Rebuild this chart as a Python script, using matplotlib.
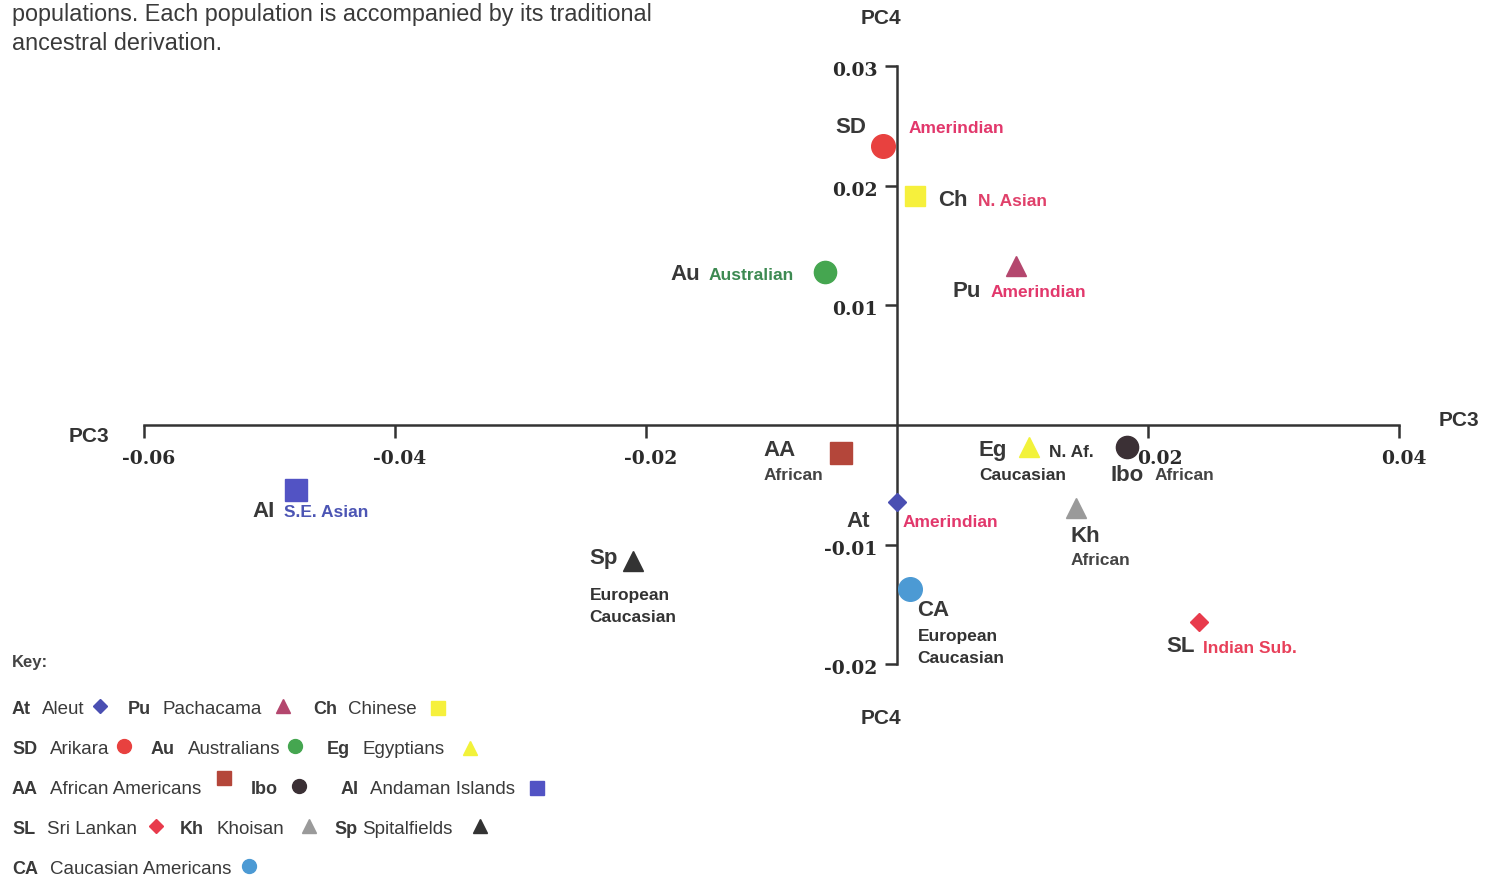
import numpy as np
import matplotlib
matplotlib.use('Agg')
from matplotlib import pyplot as plt
from matplotlib import transforms

W, H = 1486, 881

# population scores on PC3 / PC4
codes = ['SD', 'Ch', 'Au', 'Pu', 'AA', 'Eg', 'Ibo', 'AI', 'At', 'Kh', 'Sp', 'CA', 'SL']
pc3 = [-0.0011, 0.0014, -0.0057, 0.0095, -0.0045, 0.0105, 0.0183, -0.0479, 0.0000, 0.0143, -0.0210, 0.0010, 0.0241]
pc4 = [0.0233, 0.0191, 0.0128, 0.0133, -0.0023, -0.0018, -0.0018, -0.0054, -0.0064, -0.0069, -0.0114, -0.0137, -0.0165]
names = ['Arikara', 'Chinese', 'Australians', 'Pachacama', 'African Americans', 'Egyptians', '',
         'Andaman Islands', 'Aleut', 'Khoisan', 'Spitalfields', 'Caucasian Americans', 'Sri Lankan']
ancestry = ['Amerindian', 'N. Asian', 'Australian', 'Amerindian', 'African', 'N. Af.|Caucasian', 'African',
            'S.E. Asian', 'Amerindian', 'African', 'European|Caucasian', 'European|Caucasian', 'Indian Sub.']

xticks = [-0.06, -0.04, -0.02, 0.02, 0.04]
yticks = [-0.02, -0.01, 0.01, 0.02, 0.03]

style = {
    'SD':  {'color': '#e8413f', 'marker': 'o', 'ms': 17},
    'Ch':  {'color': '#f6f03c', 'marker': 's', 'ms': 15},
    'Au':  {'color': '#45a650', 'marker': 'o', 'ms': 16},
    'Pu':  {'color': '#b4476e', 'marker': '^', 'ms': 14},
    'AA':  {'color': '#b4463a', 'marker': 's', 'ms': 16},
    'Eg':  {'color': '#f2f23a', 'marker': '^', 'ms': 14},
    'Ibo': {'color': '#3b3035', 'marker': 'o', 'ms': 16},
    'AI':  {'color': '#5253c4', 'marker': 's', 'ms': 16},
    'At':  {'color': '#4a4fb2', 'marker': 'D', 'ms': 9},
    'Kh':  {'color': '#9a9a9a', 'marker': '^', 'ms': 14},
    'Sp':  {'color': '#333333', 'marker': '^', 'ms': 14},
    'CA':  {'color': '#4c9ad4', 'marker': 'o', 'ms': 17},
    'SL':  {'color': '#e83b4c', 'marker': 'D', 'ms': 9},
}

anc_color = {
    'Amerindian': '#e2386c', 'N. Asian': '#e0406a', 'Australian': '#3d8a52',
    'S.E. Asian': '#4c55b4', 'African': '#444444', 'Caucasian': '#333333',
    'N. Af.': '#333333', 'European': '#333333', 'Indian Sub.': '#e8405a',
}

# label offsets in pixels from the marker: code label, then ancestry label(s)
label_pos = {
    'SD':  [(-32, 19, 'center'), (25, 18)],
    'Ch':  [(24, -4, 'left'), (63, -5)],
    'Au':  [(-155, -3, 'left'), (-117, -4)],
    'Pu':  [(-64, -26, 'left'), (-26, -27)],
    'AA':  [(-77, 2, 'left'), (-77, -23)],
    'Eg':  [(-50, -4, 'left'), (20, -6), (-50, -29)],
    'Ibo': [(-16, -29, 'left'), (28, -29)],
    'AI':  [(-43, -22, 'left'), (-12, -23)],
    'At':  [(-27, -20, 'right'), (6, -21)],
    'Kh':  [(-6, -29, 'left'), (-6, -53)],
    'Sp':  [(-44, 3, 'left'), (-44, -34), (-44, -56)],
    'CA':  [(8, -22, 'left'), (8, -48), (8, -70)],
    'SL':  [(-33, -24, 'left'), (4, -26)],
}

sans = 'Liberation Sans'
dark = '#333333'

fig = plt.figure(figsize=(W / 100, H / 100), dpi=100)
ax = fig.add_axes([0, 0, 1, 1])
ax.set_xlim(-0.07147, 0.04693)
ax.set_ylim(-0.03810, 0.03551)

for s in ['top', 'right']:
    ax.spines[s].set_visible(False)
ax.spines['left'].set_position(('data', 0))
ax.spines['bottom'].set_position(('data', 0))
ax.spines['left'].set_bounds(-0.02, 0.03)
ax.spines['bottom'].set_bounds(-0.06, 0.04)
for s in ['left', 'bottom']:
    ax.spines[s].set_linewidth(1.8)
    ax.spines[s].set_color(dark)
    ax.spines[s].set_zorder(1)

ax.set_xticks(xticks)
ax.set_xticklabels([f'{t:.2f}' for t in xticks])
ax.set_yticks(yticks)
ax.set_yticklabels([f'{t:.2f}' for t in yticks])
ax.tick_params(length=9, width=1.8, color=dark, direction='out', pad=5)
ax.tick_params(axis='x', pad=9)
for lab in ax.get_xticklabels() + ax.get_yticklabels():
    lab.set_fontfamily('DejaVu Serif')
    lab.set_fontweight('bold')
    lab.set_fontsize(13.5)
    lab.set_color('#2a2a2a')
# labels in the scan sit a little right of their ticks
for lab, t in zip(ax.get_xticklabels(), xticks):
    shift = 12 if t == 0.02 else 5
    lab.set_transform(lab.get_transform() + transforms.ScaledTranslation(shift / 100, 0, fig.dpi_scale_trans))
for lab in ax.get_yticklabels():
    lab.set_transform(lab.get_transform() + transforms.ScaledTranslation(0, -3 / 100, fig.dpi_scale_trans))

for c, x, y, anc in zip(codes, pc3, pc4, ancestry):
    st = style[c]
    ax.plot(x, y, marker=st['marker'], ms=st['ms'], color=st['color'], mec=st['color'],
            ls='none', zorder=3)
    pos = label_pos[c]
    dx, dy, ha = pos[0]
    ax.annotate(c, (x, y), xytext=(dx, dy), textcoords='offset pixels', ha=ha, va='center',
                fontfamily=sans, fontweight='bold', fontsize=16, color='#383838')
    for part, (adx, ady) in zip(anc.split('|'), pos[1:]):
        ax.annotate(part, (x, y), xytext=(adx, ady), textcoords='offset pixels', ha='left',
                    va='center', fontfamily=sans, fontweight='bold', fontsize=12.5,
                    color=anc_color[part])


def fp(x, y):
    return x / W, 1 - y / H


# axis names
fig.text(*fp(881, 18), 'PC4', ha='center', va='center', fontfamily=sans, fontweight='bold',
         fontsize=15, color=dark)
fig.text(*fp(881, 719), 'PC4', ha='center', va='center', fontfamily=sans, fontweight='bold',
         fontsize=15, color=dark)
fig.text(*fp(89, 437), 'PC3', ha='center', va='center', fontfamily=sans, fontweight='bold',
         fontsize=15, color=dark)
fig.text(*fp(1459, 421), 'PC3', ha='center', va='center', fontfamily=sans, fontweight='bold',
         fontsize=15, color=dark)

# caption fragment
fig.text(*fp(12, 3), 'populations. Each population is accompanied by its traditional\nancestral derivation.',
         ha='left', va='top', fontfamily=sans, fontsize=16.8, color='#3a3a3a', linespacing=1.32)

# key
fig.text(*fp(12, 662), 'Key:', ha='left', va='center', fontfamily=sans, fontweight='bold',
         fontsize=12, color='#444444')
key_layout = {
    'At':  (710, 12, 42, 100, 706),
    'Pu':  (710, 128, 163, 283, 706),
    'Ch':  (710, 313, 348, 438, 708),
    'SD':  (750, 12, 50, 124, 746),
    'Au':  (750, 151, 188, 295, 746),
    'Eg':  (750, 327, 362, 470, 748),
    'AA':  (790, 12, 50, 224, 778),
    'Ibo': (790, 251, 0, 299, 786),
    'AI':  (790, 341, 370, 537, 788),
    'SL':  (830, 12, 47, 156, 826),
    'Kh':  (830, 180, 216, 309, 826),
    'Sp':  (830, 334, 362, 480, 826),
    'CA':  (869, 12, 50, 249, 866),
}
for c, nm in zip(codes, names):
    ty, cx, nx, mx, my = key_layout[c]
    fig.text(*fp(cx, ty), c, ha='left', va='center', fontfamily=sans, fontweight='bold',
             fontsize=13, color='#3a3a3a')
    if nm:
        fig.text(*fp(nx, ty), nm, ha='left', va='center', fontfamily=sans, fontsize=13.5,
                 color='#3a3a3a')
    st = style[c]
    ms = 7 if st['marker'] == 'D' else 10
    fig.lines.append(plt.Line2D([mx / W], [1 - my / H], transform=fig.transFigure,
                                marker=st['marker'], ms=ms, color=st['color'], ls='none'))

fig.savefig('out.png', dpi=100)
